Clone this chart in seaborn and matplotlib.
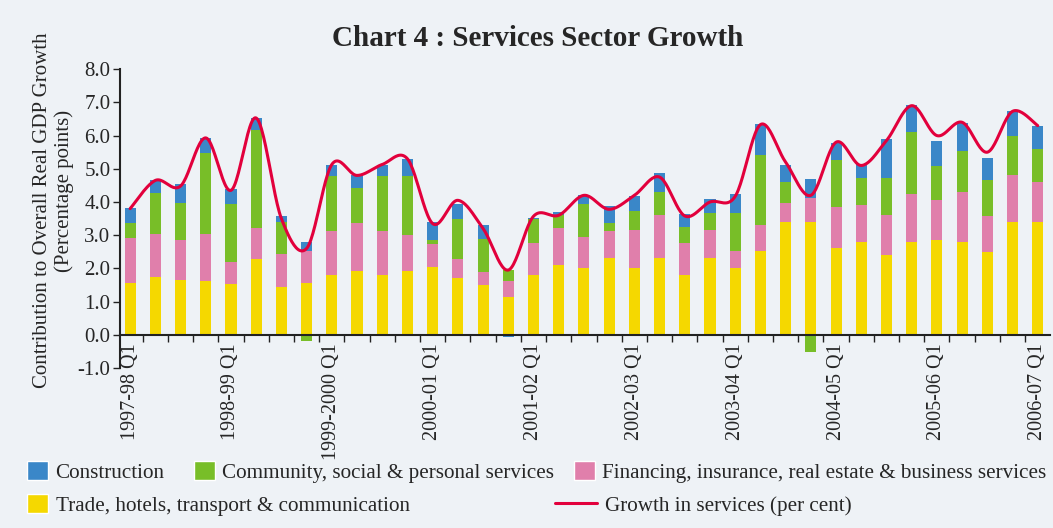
import numpy as np
import pandas as pd
import matplotlib
matplotlib.use("Agg")
import matplotlib.pyplot as plt
import seaborn as sns
from matplotlib.patches import Patch
from matplotlib.lines import Line2D

# ---------------- data ----------------
years = ["1997-98", "1998-99", "1999-2000", "2000-01", "2001-02",
         "2002-03", "2003-04", "2004-05", "2005-06", "2006-07"]
quarters = [f"{y} Q{q}" for y in years for q in range(1, 5)][:37]

trade = [1.57, 1.75, 1.66, 1.62, 1.53, 2.28, 1.45, 1.55, 1.80, 1.91, 1.80, 1.92,
         2.03, 1.71, 1.50, 1.14, 1.80, 2.10, 2.01, 2.31, 2.01, 2.31, 1.80, 2.31,
         2.01, 2.51, 3.41, 3.41, 2.61, 2.81, 2.40, 2.81, 2.86, 2.81, 2.49, 3.41, 3.41]
financing = [1.36, 1.30, 1.19, 1.43, 0.67, 0.94, 0.98, 0.97, 1.32, 1.47, 1.32, 1.10,
             0.71, 0.57, 0.40, 0.48, 0.96, 1.12, 0.94, 0.82, 1.15, 1.29, 0.96, 0.85,
             0.52, 0.79, 0.56, 0.70, 1.23, 1.09, 1.20, 1.42, 1.21, 1.48, 1.09, 1.39, 1.20]
community = [0.43, 1.22, 1.11, 2.43, 1.73, 2.96, 0.97, -0.18, 1.66, 1.04, 1.66, 1.76,
             0.11, 1.20, 0.98, 0.33, 0.74, 0.38, 0.99, 0.23, 0.57, 0.70, 0.49, 0.51,
             1.13, 2.11, 0.64, -0.52, 1.41, 0.81, 1.11, 1.89, 1.00, 1.24, 1.07, 1.20, 1.00]
construction = [0.46, 0.38, 0.59, 0.46, 0.45, 0.35, 0.19, 0.28, 0.32, 0.38, 0.34, 0.51,
                0.56, 0.45, 0.42, -0.08, 0.02, 0.10, 0.28, 0.53, 0.45, 0.58, 0.40, 0.41,
                0.57, 0.95, 0.50, 0.58, 0.54, 0.44, 1.20, 0.81, 0.78, 0.86, 0.66, 0.75, 0.69]
growth = [3.80, 4.65, 4.48, 5.93, 4.35, 6.53, 3.50, 2.60, 5.13, 4.80, 5.13, 5.30,
          3.35, 4.05, 3.20, 1.95, 3.57, 3.60, 4.20, 3.78, 4.20, 4.75, 3.58, 4.00,
          4.17, 6.33, 5.20, 4.20, 5.80, 5.10, 5.85, 6.90, 6.00, 6.40, 5.50, 6.73, 6.30]

series_names = ["Trade, hotels, transport & communication",
                "Financing, insurance, real estate & business services",
                "Community, social & personal services",
                "Construction"]
series_vals = [trade, financing, community, construction]
colors = ["#f5d800", "#e07fab", "#78be28", "#3a87c8"]
line_color = "#e2003c"
bg = "#eef2f6"

# ---------------- style ----------------
sns.set_theme(style="white")
plt.rcParams["font.family"] = ["Liberation Serif", "DejaVu Serif"]
plt.rcParams["axes.facecolor"] = bg
plt.rcParams["figure.facecolor"] = bg

fig = plt.figure(figsize=(10.53, 5.28), dpi=100)
ax = fig.add_axes([0.114, 0.303, 0.883, 0.566])
ax.set_facecolor(bg)

# stacked bars: positives stack upward, negatives downward
pos_base = np.zeros(len(quarters))
neg_base = np.zeros(len(quarters))
for name, vals, col in zip(series_names, series_vals, colors):
    v = np.array(vals)
    bottom = np.where(v >= 0, pos_base, neg_base)
    df = pd.DataFrame({"q": quarters, "v": v})
    sns.barplot(data=df, x="q", y="v", order=quarters, bottom=bottom,
                color=col, saturation=1, width=0.44, errorbar=None,
                edgecolor="none", linewidth=0, ax=ax)
    pos_base = pos_base + np.where(v >= 0, v, 0)
    neg_base = neg_base + np.where(v < 0, v, 0)

# smoothed growth line (Bezier smoothing through the points, Excel-like)
x = np.arange(len(growth), dtype=float)
y = np.array(growth)
xs, ys = [], []
n = len(x)
for i in range(n - 1):
    p0 = (x[max(i - 1, 0)], y[max(i - 1, 0)])
    p1 = (x[i], y[i])
    p2 = (x[i + 1], y[i + 1])
    p3 = (x[min(i + 2, n - 1)], y[min(i + 2, n - 1)])
    t = np.linspace(0, 1, 25)
    for k, arr in ((0, xs), (1, ys)):
        a0, a1, a2, a3 = p0[k], p1[k], p2[k], p3[k]
        c1 = a1 + (a2 - a0) / 6.0
        c2 = a2 - (a3 - a1) / 6.0
        arr.extend(((1 - t) ** 3) * a1 + 3 * ((1 - t) ** 2) * t * c1
                   + 3 * (1 - t) * t ** 2 * c2 + t ** 3 * a2)
sns.lineplot(x=xs, y=ys, sort=False, color=line_color, linewidth=2.2,
             estimator=None, ax=ax)

# axes
ax.set_xlim(-0.4, 36.48)
ax.set_ylim(-1.0, 8.0)
ax.set_yticks(np.arange(-1, 9, 1))
ax.set_yticklabels([f"{v:.1f}" for v in np.arange(-1, 9, 1)], fontsize=15)
ax.set_xticks(np.arange(0, 37, 4))
ax.set_xticklabels([quarters[i] for i in range(0, 37, 4)])
ax.set_xticks(np.arange(0.5, 36.5, 1), minor=True)
ax.tick_params(axis="x", which="major", length=0, pad=6, labelrotation=90,
               labelsize=14.5, bottom=True)
ax.tick_params(axis="x", which="minor", length=5, width=1, color="#222222",
               direction="out", bottom=True)
ax.tick_params(axis="y", length=5, width=1, color="#222222", direction="out",
               left=True, pad=2, labelsize=15)
for lbl in ax.get_xticklabels():
    lbl.set_rotation(90)
    lbl.set_va("top")
    lbl.set_ha("center")
    lbl.set_fontsize(14.5)
ax.set_xlabel("")
ax.set_ylabel("")
for s in ["top", "right"]:
    ax.spines[s].set_visible(False)
ax.spines["bottom"].set_position(("data", 0))
ax.spines["bottom"].set_color("#222222")
ax.spines["bottom"].set_linewidth(1.5)
ax.spines["left"].set_color("#222222")
ax.spines["left"].set_linewidth(1.5)
ax.set_axisbelow(False)

# title and y label
fig.text(0.511, 0.928, "Chart 4 : Services Sector Growth", ha="center",
         va="center", fontsize=21, fontweight="bold")
fig.text(0.040, 1 - 210 / 528, "Contribution to Overall Real GDP Growth",
         rotation=90, ha="center", va="center", fontsize=15)
fig.text(0.061, 1 - 191 / 528, "(Percentage points)",
         rotation=90, ha="center", va="center", fontsize=15)

# legend entries placed individually
LFS = 15.2

def add_leg(handle, label, xpix, ypix, hl=1.0):
    fig.legend([handle], [label], loc="center left",
               bbox_to_anchor=(xpix / 1053, 1 - ypix / 528), frameon=False,
               fontsize=LFS, handlelength=hl, handleheight=1.0,
               handletextpad=0.35, borderpad=0, borderaxespad=0)

add_leg(Patch(facecolor=colors[3]), "Construction", 27, 472)
add_leg(Patch(facecolor=colors[2]), "Community, social & personal services", 194, 472)
add_leg(Patch(facecolor=colors[1]),
        "Financing, insurance, real estate & business services", 574, 472)
add_leg(Patch(facecolor=colors[0]), series_names[0], 27, 505)
add_leg(Line2D([0], [0], color=line_color, lw=2.2),
        "Growth in services (per cent)", 555, 505, hl=2.0)

fig.savefig("out.png", dpi=100, facecolor=bg)
